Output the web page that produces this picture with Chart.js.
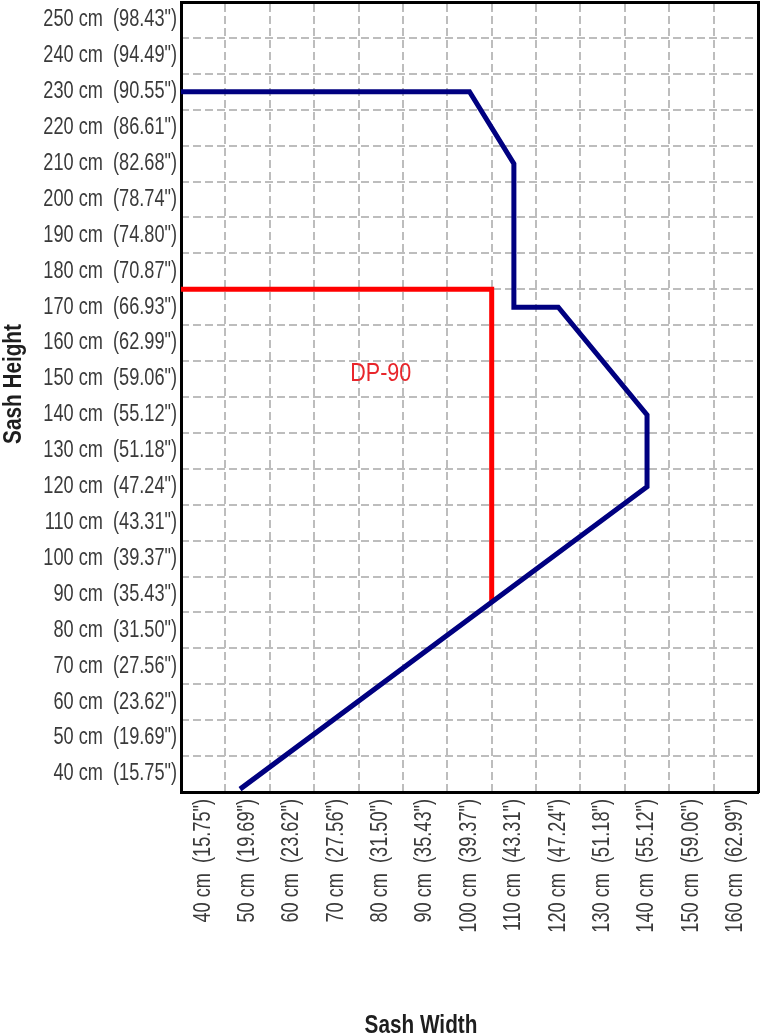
<!DOCTYPE html>
<html>
<head>
<meta charset="utf-8">
<script src="https://cdn.jsdelivr.net/npm/chart.js@4/dist/chart.umd.min.js"></script>
<style>
  html, body { margin: 0; padding: 0; background: #fff; }
  canvas { display: block; }
</style>
</head>
<body>
<canvas id="c" width="761" height="1036"></canvas>
<script>
// ---- data ----
const xTickCm = [40, 50, 60, 70, 80, 90, 100, 110, 120, 130, 140, 150, 160];
const xTickInch = ["15.75", "19.69", "23.62", "27.56", "31.50", "35.43", "39.37", "43.31", "47.24", "51.18", "55.12", "59.06", "62.99"];
const yTickCm = [40, 50, 60, 70, 80, 90, 100, 110, 120, 130, 140, 150, 160, 170, 180, 190, 200, 210, 220, 230, 240, 250];
const yTickInch = ["15.75", "19.69", "23.62", "27.56", "31.50", "35.43", "39.37", "43.31", "47.24", "51.18", "55.12", "59.06", "62.99", "66.93", "70.87", "74.80", "78.74", "82.68", "86.61", "90.55", "94.49", "98.43"];
const xGridCm = [45, 55, 65, 75, 85, 95, 105, 115, 125, 135, 145, 155];
const yGridCm = [45, 55, 65, 75, 85, 95, 105, 115, 125, 135, 145, 155, 165, 175, 185, 195, 205, 215, 225, 235, 245];
const xRange = [35, 165];
const yRange = [35, 255];

const outerX = [35, 100, 110, 110, 120, 140, 140, 48.3];
const outerY = [230, 230, 210, 170, 170, 140, 120, 35.8];
const dp90X = [35, 105, 105];
const dp90Y = [175, 175, 88.1];
const dp90Label = "DP-90";
const dp90LabelPos = [80, 151.5];
const xTitle = "Sash Width";
const yTitle = "Sash Height";

// ---- styles ----
const FONT = "'Liberation Sans', Arial, sans-serif";
const tickColor = '#3a3a3a';
const gridColor = '#bdbdbd';

const tickLabel = (cm, inch) => cm + ' cm  (' + inch + '")';
const toPts = (xs, ys) => xs.map((x, i) => ({ x: x, y: ys[i] }));

// draws real text, condensed horizontally (the original uses a condensed face)
function condensedText(ctx, text, x, y, opts) {
  ctx.save();
  ctx.translate(x, y);
  if (opts.rotate) ctx.rotate(opts.rotate);
  ctx.scale(opts.sx || 1, 1);
  ctx.font = opts.font;
  ctx.fillStyle = opts.color;
  ctx.textAlign = opts.align || 'left';
  ctx.textBaseline = opts.baseline || 'alphabetic';
  ctx.fillText(text, 0, 0);
  ctx.restore();
}

const textPlugin = {
  id: 'texts',
  afterDatasetsDraw(chart) {
    const ctx = chart.ctx;
    const xs = chart.scales.x, ys = chart.scales.y;
    condensedText(ctx, dp90Label, xs.getPixelForValue(dp90LabelPos[0]), ys.getPixelForValue(dp90LabelPos[1]),
      { font: 'normal 25px ' + FONT, color: '#e8262b', align: 'center', baseline: 'middle', sx: 0.86 });
  },
  afterDraw(chart) {
    const ctx = chart.ctx;
    const xs = chart.scales.x, ys = chart.scales.y;
    const tf = 'normal 23px ' + FONT;
    // y tick labels
    yTickCm.forEach((v, i) => {
      condensedText(ctx, tickLabel(v, yTickInch[i]), ys.left + ys.width - 4, ys.getPixelForValue(v),
        { font: tf, color: tickColor, align: 'right', baseline: 'middle', sx: 0.79 });
    });
    // x tick labels (rotated, reading upwards)
    xTickCm.forEach((v, i) => {
      condensedText(ctx, tickLabel(v, xTickInch[i]), xs.getPixelForValue(v), xs.top + 7,
        { font: tf, color: tickColor, align: 'right', baseline: 'middle', sx: 0.79, rotate: -Math.PI / 2 });
    });
    // axis titles
    condensedText(ctx, xTitle, 421, 1033, { font: 'bold 25px ' + FONT, color: '#1e1e1e', align: 'center', sx: 0.83 });
    condensedText(ctx, yTitle, 21, 384, { font: 'bold 25px ' + FONT, color: '#1e1e1e', align: 'center', sx: 0.83, rotate: -Math.PI / 2 });
  }
};

new Chart(document.getElementById('c'), {
  type: 'scatter',
  data: {
    datasets: [
      {
        data: toPts(outerX, outerY),
        showLine: true,
        borderColor: '#000080',
        backgroundColor: '#000080',
        borderWidth: 5,
        pointRadius: 0,
        borderJoinStyle: 'miter',
        borderCapStyle: 'butt',
        tension: 0
      },
      {
        data: toPts(dp90X, dp90Y),
        showLine: true,
        borderColor: '#ff0000',
        backgroundColor: '#ff0000',
        borderWidth: 5,
        pointRadius: 0,
        borderJoinStyle: 'miter',
        borderCapStyle: 'butt',
        tension: 0
      }
    ]
  },
  options: {
    responsive: false,
    animation: false,
    devicePixelRatio: 1,
    layout: { padding: { left: 0, top: 2, right: 3, bottom: 0 } },
    plugins: { legend: { display: false }, tooltip: { enabled: false }, title: { display: false } },
    scales: {
      xg: {
        type: 'linear', position: 'top', min: xRange[0], max: xRange[1],
        afterBuildTicks: s => { s.ticks = xGridCm.map(v => ({ value: v })); },
        afterFit: s => { s.height = 0; },
        ticks: { display: false },
        grid: { display: true, color: gridColor, lineWidth: 2, drawTicks: false },
        border: { display: true, color: '#000', width: 3, dash: [8, 4] }
      },
      yg: {
        type: 'linear', position: 'right', min: yRange[0], max: yRange[1],
        afterBuildTicks: s => { s.ticks = yGridCm.map(v => ({ value: v })); },
        afterFit: s => { s.width = 0; },
        ticks: { display: false },
        grid: { display: true, color: gridColor, lineWidth: 2, drawTicks: false },
        border: { display: true, color: '#000', width: 3, dash: [8, 4] }
      },
      x: {
        type: 'linear', position: 'bottom', min: xRange[0], max: xRange[1],
        afterBuildTicks: s => { s.ticks = xTickCm.map(v => ({ value: v })); },
        afterFit: s => { s.height = 244; },
        ticks: { display: false },
        grid: { display: false, drawTicks: false },
        border: { display: true, color: '#000', width: 3 }
      },
      y: {
        type: 'linear', position: 'left', min: yRange[0], max: yRange[1],
        afterBuildTicks: s => { s.ticks = yTickCm.map(v => ({ value: v })); },
        afterFit: s => { s.width = 181; },
        ticks: { display: false },
        grid: { display: false, drawTicks: false },
        border: { display: true, color: '#000', width: 3 }
      }
    }
  },
  plugins: [textPlugin]
});
</script>
</body>
</html>
